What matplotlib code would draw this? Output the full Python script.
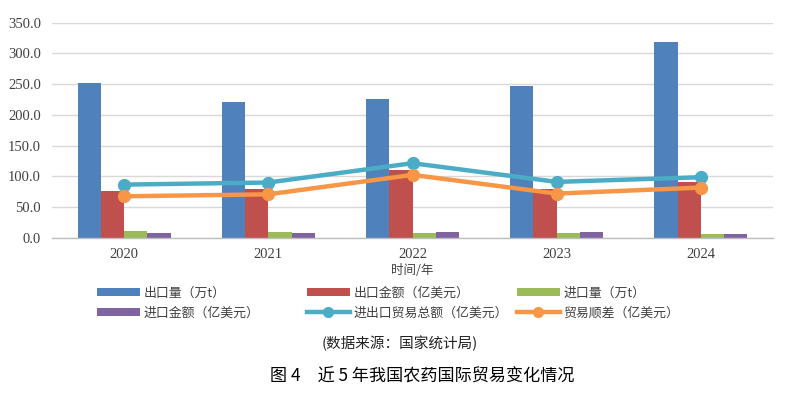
import matplotlib
matplotlib.use("Agg")
import matplotlib.pyplot as plt
import numpy as np
from matplotlib.patches import Patch
from matplotlib.lines import Line2D

plt.rcParams['font.family'] = ['Noto Sans CJK SC', 'DejaVu Sans']

years = ["2020", "2021", "2022", "2023", "2024"]
export_volume = [251.6, 220.8, 225.6, 246.4, 318.0]      # 出口量（万t）
export_value = [76.0, 79.8, 110.6, 80.4, 90.6]           # 出口金额（亿美元）
import_volume = [10.6, 10.4, 8.8, 8.6, 7.2]              # 进口量（万t）
import_value = [8.8, 8.6, 9.6, 9.4, 7.0]                 # 进口金额（亿美元）
total_trade = [86.8, 90.2, 121.6, 91.2, 98.8]            # 进出口贸易总额（亿美元）
trade_surplus = [67.8, 71.0, 102.6, 72.2, 82.0]          # 贸易顺差（亿美元）

labels = ["出口量（万t）", "出口金额（亿美元）", "进口量（万t）",
          "进口金额（亿美元）", "进出口贸易总额（亿美元）", "贸易顺差（亿美元）"]
colors = ["#4F81BD", "#C0504D", "#9BBB59", "#8064A2", "#4BACC6", "#F79646"]

W, H = 787, 393
fig = plt.figure(figsize=(W / 100, H / 100), dpi=100)
ax = fig.add_axes([52 / W, 1 - 238 / H, (773 - 52) / W, (238 - 22.7) / H])

x = np.arange(len(years))
w = 0.161
bar_series = [export_volume, export_value, import_volume, import_value]
for i, (vals, c) in enumerate(zip(bar_series, colors[:4])):
    ax.bar(x + (i - 1.5) * w, vals, width=w, color=c, zorder=2)

ax.plot(x, total_trade, color=colors[4], lw=3.2, marker='o', ms=8.5, zorder=3)
ax.plot(x, trade_surplus, color=colors[5], lw=3.2, marker='o', ms=8.5, zorder=3)

ax.set_xlim(-0.5, 4.5)
ax.set_ylim(0, 350)
ax.set_yticks(np.arange(0, 351, 50))
ax.set_yticklabels([f"{v:.1f}" for v in np.arange(0, 351, 50)],
                   family=['Liberation Serif'], fontsize=10.5, color='#404040')
ax.set_xticks(x)
ax.set_xticklabels(years, family=['Liberation Serif'], fontsize=10.5, color='#404040')
ax.tick_params(axis='both', length=0)
ax.tick_params(axis='y', pad=8)
ax.tick_params(axis='x', pad=7)
ax.grid(axis='y', color='#D9D9D9', lw=1.0, zorder=0)
ax.set_axisbelow(True)
for s in ['top', 'right', 'left']:
    ax.spines[s].set_visible(False)
ax.spines['bottom'].set_color('#BFBFBF')
ax.spines['bottom'].set_linewidth(1.0)

fig.text(412 / W, 1 - 271 / H, "时间/年", ha='center', va='center', fontsize=9, color='#404040')

handles = [Patch(facecolor=c, edgecolor='none') for c in colors[:4]]
handles += [Line2D([0], [0], color=c, lw=3.2, marker='o', ms=7) for c in colors[4:]]

col_x = [97, 307, 517]
for col in range(3):
    hs = [handles[col], handles[col + 3]]
    ls = [labels[col], labels[col + 3]]
    leg = fig.legend(hs, ls, loc='center left', bbox_to_anchor=(col_x[col] / W, 1 - 303 / H),
                     frameon=False, fontsize=9.3, handlelength=3.3, handleheight=0.6,
                     handletextpad=0.3, labelspacing=0.5, borderpad=0, borderaxespad=0)
    for t in leg.get_texts():
        t.set_color('#404040')

fig.text(400 / W, 1 - 343 / H, "(数据来源：国家统计局)", ha='center', va='center',
         fontsize=10.5, color='#222222')
fig.text(422 / W, 1 - 377 / H, "图 4　近 5 年我国农药国际贸易变化情况", ha='center', va='center',
         fontsize=12.3, color='#000000')

fig.savefig("out.png", dpi=100)
